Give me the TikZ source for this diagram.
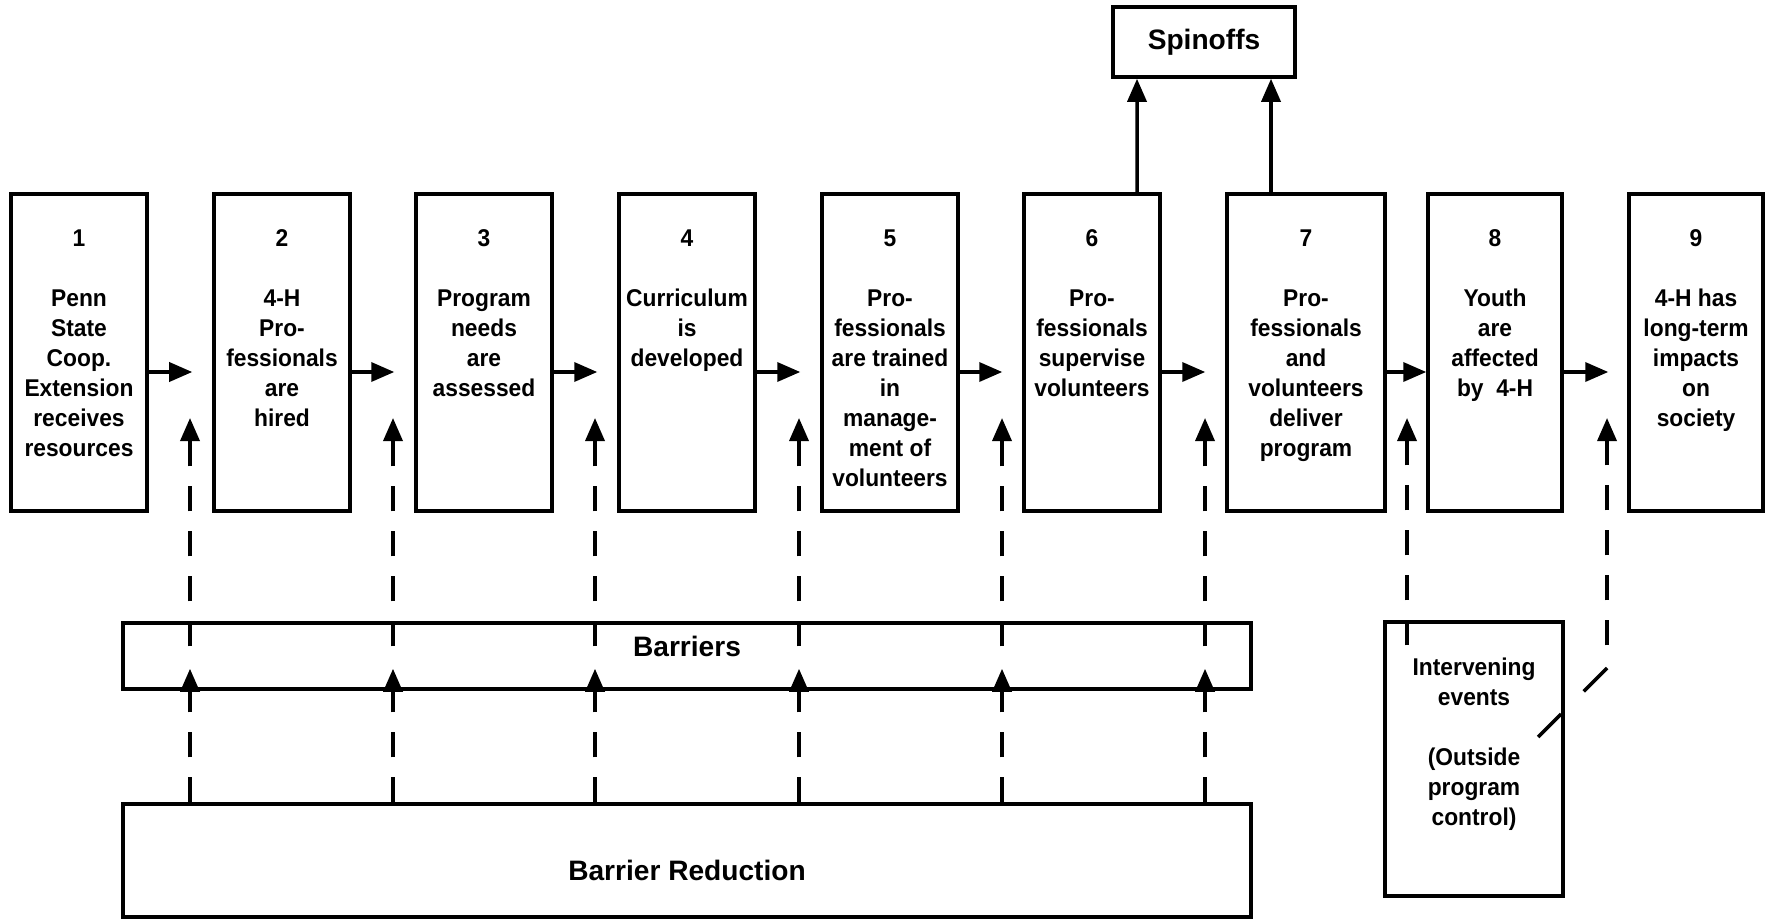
\documentclass[tikz,border=0pt]{standalone}
\usepackage{fontspec}
\setmainfont{Liberation Sans}
\newfontfamily\stagefont{Liberation Sans}[FakeStretch=0.94]
\usetikzlibrary{arrows.meta}

\begin{document}
\begin{tikzpicture}[
    stage/.style={draw, line width=1pt, minimum width=1.36cm, minimum height=3.17cm, inner sep=0pt},
    stagetext/.style={anchor=north, yshift=-0.365cm, align=center, inner sep=0pt, font=\stagefont\fontsize{6.9}{8.55}\selectfont\bfseries},
    flow/.style={line width=1pt, -{Triangle[length=0.23cm, width=0.19cm]}},
    barrier/.style={flow, dash pattern=on 0.25cm off 0.2cm},
    bigbox/.style={draw, line width=1pt, inner sep=0pt, font=\fontsize{8}{9.6}\selectfont\bfseries}]
    \useasboundingbox (0, 0) rectangle (17.68, -9.21);

    \node[stage] (s1) at(0.79, -3.525){};
        \node[stagetext] (s1t) at(s1.north){1\\[0.3cm]Penn\\State\\Coop.\\Extension\\receives\\resources};
    \node[stage] (s2) at(2.82, -3.525){};
        \node[stagetext] (s2t) at(s2.north){2\\[0.3cm]4-H\\Pro-\\fessionals\\are\\hired};
    \node[stage] (s3) at(4.84, -3.525){};
        \node[stagetext] (s3t) at(s3.north){3\\[0.3cm]Program\\needs\\are\\assessed};
    \node[stage] (s4) at(6.87, -3.525){};
        \node[stagetext] (s4t) at(s4.north){4\\[0.3cm]Curriculum\\is\\developed};
    \node[stage] (s5) at(8.90, -3.525){};
        \node[stagetext] (s5t) at(s5.north){5\\[0.3cm]Pro-\\fessionals\\are trained\\in\\manage-\\ment of\\volunteers};
    \node[stage] (s6) at(10.92, -3.525){};
        \node[stagetext] (s6t) at(s6.north){6\\[0.3cm]Pro-\\fessionals\\supervise\\volunteers};
    \node[stage, minimum width=1.58cm] (s7) at(13.06, -3.525){};
        \node[stagetext] (s7t) at(s7.north){7\\[0.3cm]Pro-\\fessionals\\and\\volunteers\\deliver\\program};
    \node[stage, minimum width=1.34cm] (s8) at(14.95, -3.525){};
        \node[stagetext] (s8t) at(s8.north){8\\[0.3cm]Youth\\are\\affected\\by\ \ 4-H};
    \node[stage, minimum width=1.34cm] (s9) at(16.96, -3.525){};
        \node[stagetext] (s9t) at(s9.north){9\\[0.3cm]4-H has\\long-term\\impacts\\on\\society};

    \node[bigbox, minimum width=1.82cm, minimum height=0.70cm] (spin) at(12.04, -0.42){Spinoffs};
    \node[bigbox, minimum width=11.28cm, minimum height=0.66cm, text depth=0.2cm] (barr) at(6.87, -6.56){Barriers};
    \node[bigbox, minimum width=11.28cm, minimum height=1.13cm, text height=0.4cm, text depth=0pt] (red) at(6.87, -8.605){Barrier Reduction};
    \node[stage, minimum width=1.78cm, minimum height=2.74cm] (interv) at(14.74, -7.59){};
        \node[stagetext] (intervt) at(interv.north){Intervening\\events\\[0.3cm](Outside\\program\\control)};

    \draw[flow, shorten >=0.2cm] ([yshift=-0.195cm]s1.east) -- ([yshift=-0.195cm]s2.west);
    \draw[flow, shorten >=0.2cm] ([yshift=-0.195cm]s2.east) -- ([yshift=-0.195cm]s3.west);
    \draw[flow, shorten >=0.2cm] ([yshift=-0.195cm]s3.east) -- ([yshift=-0.195cm]s4.west);
    \draw[flow, shorten >=0.2cm] ([yshift=-0.195cm]s4.east) -- ([yshift=-0.195cm]s5.west);
    \draw[flow, shorten >=0.2cm] ([yshift=-0.195cm]s5.east) -- ([yshift=-0.195cm]s6.west);
    \draw[flow, shorten >=0.2cm] ([yshift=-0.195cm]s6.east) -- ([yshift=-0.195cm]s7.west);
    \draw[flow] ([yshift=-0.195cm]s7.east) -- ([yshift=-0.195cm]s8.west);
    \draw[flow, shorten >=0.19cm] ([yshift=-0.195cm]s8.east) -- ([yshift=-0.195cm]s9.west);

    \draw[flow] ([xshift=0.45cm]s6.north) -- ([xshift=-0.67cm]spin.south);
    \draw[flow] ([xshift=-0.35cm]s7.north) -- ([xshift=0.67cm]spin.south);

    \coordinate (u1) at(1.90, -4.18);
    \coordinate (u2) at(3.93, -4.18);
    \coordinate (u3) at(5.95, -4.18);
    \coordinate (u4) at(7.99, -4.18);
    \coordinate (u5) at(10.02, -4.18);
    \coordinate (u6) at(12.05, -4.18);
    \coordinate (u7) at(14.07, -4.18);
    \coordinate (u8) at(16.07, -4.18);
    \coordinate (d8) at(16.07, -6.68);

    \draw[barrier] (u1 |- red.north) -- ([yshift=0.22cm]u1 |- barr.south);
    \draw[barrier] (u2 |- red.north) -- ([yshift=0.22cm]u2 |- barr.south);
    \draw[barrier] (u3 |- red.north) -- ([yshift=0.22cm]u3 |- barr.south);
    \draw[barrier] (u4 |- red.north) -- ([yshift=0.22cm]u4 |- barr.south);
    \draw[barrier] (u5 |- red.north) -- ([yshift=0.22cm]u5 |- barr.south);
    \draw[barrier] (u6 |- red.north) -- ([yshift=0.22cm]u6 |- barr.south);

    \draw[barrier] ([yshift=-0.25cm]u1 |- barr.north) -- (u1);
    \draw[barrier] ([yshift=-0.25cm]u2 |- barr.north) -- (u2);
    \draw[barrier] ([yshift=-0.25cm]u3 |- barr.north) -- (u3);
    \draw[barrier] ([yshift=-0.25cm]u4 |- barr.north) -- (u4);
    \draw[barrier] ([yshift=-0.25cm]u5 |- barr.north) -- (u5);
    \draw[barrier] ([yshift=-0.25cm]u6 |- barr.north) -- (u6);
    \draw[barrier] ([yshift=-0.25cm]u7 |- interv.north) -- (u7);
    \draw[barrier] ([yshift=-0.25cm]u8 |- interv.north) -- (u8);

    \draw[line width=1pt, dash pattern=on 0.33cm off 0.32cm] (d8) -- ++(-0.69, -0.69);
\end{tikzpicture}
\end{document}
